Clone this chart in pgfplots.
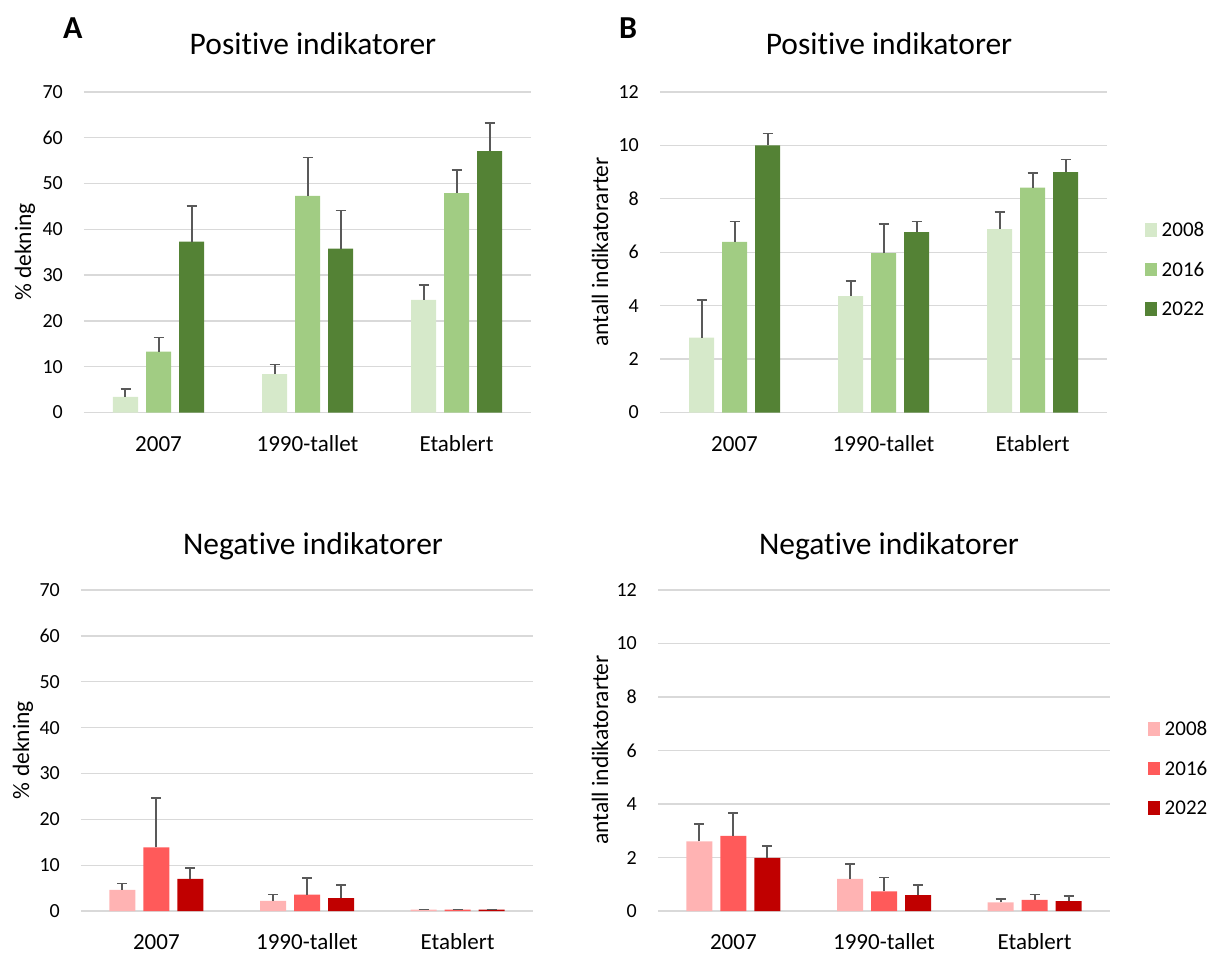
\documentclass[border=0pt]{standalone}
\usepackage{fontspec}
\setmainfont{Carlito}[Ligatures=NoCommon]
\usepackage{pgfplots}
\pgfplotsset{compat=1.18}
\definecolor{gA}{HTML}{D6E9CA}
\definecolor{gB}{HTML}{A1CC83}
\definecolor{gC}{HTML}{548235}
\definecolor{rA}{HTML}{FFB3B3}
\definecolor{rB}{HTML}{FF5A5A}
\definecolor{rC}{HTML}{C00000}
\definecolor{gridc}{HTML}{D9D9D9}
\definecolor{errc}{HTML}{595959}

\pgfplotsset{
 panel/.style={
  scale only axis, ybar=8pt, bar width=25pt,
  xmin=-0.5, xmax=2.5, ymin=0, xtick={0,1,2}, xticklabels={2007,1990-tallet,Etablert},
  axis lines*=left, axis line style={draw=none}, major tick length=0pt,
  ymajorgrids, major grid style={draw=gridc, line width=1.3pt},
  /pgf/number format/assume math mode=true,
  yticklabel style={font=\fontsize{20}{24}\selectfont, anchor=east, inner sep=0pt, xshift=-21pt},
  xticklabel style={font=\fontsize{23}{27}\selectfont, anchor=base, inner sep=0pt, yshift=-38.5pt},
  error bars/y dir=plus, error bars/y explicit,
  error bars/error mark=-,
  error bars/error bar style={draw=errc, line width=2pt},
  error bars/error mark options={draw=errc, line width=1.8pt, mark size=5pt, rotate=90},
  clip=false,
 },
 leg/.style={
  legend style={at={(1,#1)}, anchor=west, xshift=38pt, draw=none, fill=none, inner sep=0pt,
   font=\fontsize{21}{25}\selectfont, row sep=25.5pt,
   nodes={inner sep=0pt, text height=14pt, text depth=0pt},
   /tikz/every odd column/.append style={column sep=4.5pt}},
  legend cell align=left,
  legend image code/.code={\fill[##1] (0pt,-7pt) rectangle (12pt,6.3pt);},
 },
}

\pgfplotstableread{
x y e
0 3.4 1.7
1 8.4 2.1
2 24.6 3.2
}\AaA
\pgfplotstableread{
x y e
0 13.3 3.1
1 47.3 8.4
2 47.9 5.1
}\AaB
\pgfplotstableread{
x y e
0 37.3 7.8
1 35.8 8.3
2 57.1 6.2
}\AaC
\pgfplotstableread{
x y e
0 2.80 1.40
1 4.36 0.56
2 6.87 0.64
}\BaA
\pgfplotstableread{
x y e
0 6.39 0.76
1 5.97 1.08
2 8.42 0.55
}\BaB
\pgfplotstableread{
x y e
0 10.0 0.45
1 6.75 0.40
2 9.0 0.47
}\BaC
\pgfplotstableread{
x y e
0 4.6 1.4
1 2.2 1.4
2 0.3 0.05
}\AbA
\pgfplotstableread{
x y e
0 13.9 10.8
1 3.6 3.6
2 0.3 0.05
}\AbB
\pgfplotstableread{
x y e
0 7.0 2.3
1 2.8 2.9
2 0.3 0.05
}\AbC
\pgfplotstableread{
x y e
0 2.60 0.66
1 1.20 0.57
2 0.32 0.14
}\BbA
\pgfplotstableread{
x y e
0 2.81 0.86
1 0.73 0.52
2 0.42 0.20
}\BbB
\pgfplotstableread{
x y e
0 1.99 0.45
1 0.59 0.39
2 0.37 0.20
}\BbC

\begin{document}
\begin{tikzpicture}
\path[use as bounding box] (0pt,0pt) rectangle (1215pt,-956pt);

% A top
\begin{axis}[panel, at={(84pt,-412.5pt)}, anchor=south west, width=447pt, height=320.5pt,
  ymax=70, ytick={0,10,...,70}]
\addplot[fill=gA, draw=none] table[x=x,y=y,y error=e] {\AaA};
\addplot[fill=gB, draw=none] table[x=x,y=y,y error=e] {\AaB};
\addplot[fill=gC, draw=none] table[x=x,y=y,y error=e] {\AaC};
\end{axis}

% B top
\begin{axis}[panel, leg=0.4477, at={(660pt,-412.5pt)}, anchor=south west, width=447pt, height=320.5pt,
  ymax=12, ytick={0,2,...,12}]
\addplot[fill=gA, draw=none] table[x=x,y=y,y error=e] {\BaA};
\addplot[fill=gB, draw=none] table[x=x,y=y,y error=e] {\BaB};
\addplot[fill=gC, draw=none] table[x=x,y=y,y error=e] {\BaC};
\legend{2008,2016,2022}
\end{axis}

% A bottom
\begin{axis}[panel, bar width=26pt, at={(81pt,-911pt)}, anchor=south west, width=452pt, height=321pt,
  ymax=70, ytick={0,10,...,70}]
\addplot[fill=rA, draw=none] table[x=x,y=y,y error=e] {\AbA};
\addplot[fill=rB, draw=none] table[x=x,y=y,y error=e] {\AbB};
\addplot[fill=rC, draw=none] table[x=x,y=y,y error=e] {\AbC};
\end{axis}

% B bottom
\begin{axis}[panel, leg=0.4455, bar width=26pt, at={(658pt,-911pt)}, anchor=south west, width=452pt, height=321pt,
  ymax=12, ytick={0,2,...,12}]
\addplot[fill=rA, draw=none] table[x=x,y=y,y error=e] {\BbA};
\addplot[fill=rB, draw=none] table[x=x,y=y,y error=e] {\BbB};
\addplot[fill=rC, draw=none] table[x=x,y=y,y error=e] {\BbC};
\legend{2008,2016,2022}
\end{axis}

% titles and labels
\node[anchor=base west, inner sep=0pt, font=\fontsize{32}{36}\selectfont\bfseries] at (63pt,-38.3pt) {A};
\node[anchor=base, inner sep=0pt, font=\fontsize{32}{36}\selectfont\bfseries] at (628pt,-38.3pt) {B};
\node[anchor=base, inner sep=0pt, font=\fontsize{31.5}{36}\selectfont] at (313pt,-54.3pt) {Positive indikatorer};
\node[anchor=base, inner sep=0pt, font=\fontsize{31.5}{36}\selectfont] at (889pt,-54.3pt) {Positive indikatorer};
\node[anchor=base, inner sep=0pt, font=\fontsize{31.5}{36}\selectfont] at (313pt,-554pt) {Negative indikatorer};
\node[anchor=base, inner sep=0pt, font=\fontsize{31.5}{36}\selectfont] at (889pt,-554pt) {Negative indikatorer};
\node[rotate=90, inner sep=0pt, font=\fontsize{23.5}{27}\selectfont] at (25pt,-252pt) {\% dekning};
\node[rotate=90, inner sep=0pt, font=\fontsize{23.5}{27}\selectfont] at (23pt,-750pt) {\% dekning};
\node[rotate=90, inner sep=0pt, font=\fontsize{23.5}{27}\selectfont] at (600pt,-252pt) {antall indikatorarter};
\node[rotate=90, inner sep=0pt, font=\fontsize{23.5}{27}\selectfont] at (600pt,-750pt) {antall indikatorarter};
\end{tikzpicture}
\end{document}
